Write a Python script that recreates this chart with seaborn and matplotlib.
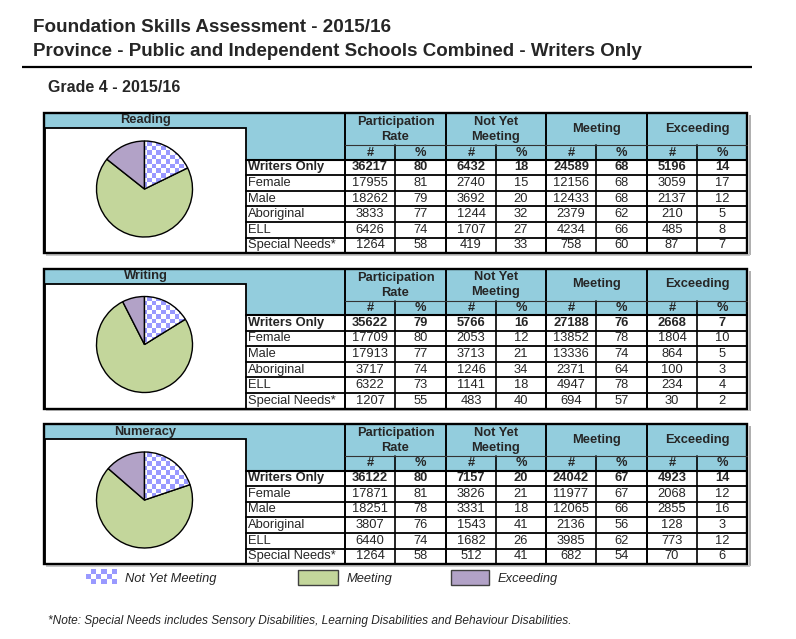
import matplotlib
matplotlib.use("Agg")
import matplotlib.pyplot as plt
from matplotlib import font_manager
from matplotlib.colors import ListedColormap
from matplotlib.patches import Rectangle
import numpy as np
import seaborn as sns

# Data
subjects = ["Reading", "Writing", "Numeracy"]
groups = ["Writers Only", "Female", "Male", "Aboriginal", "ELL", "Special Needs*"]
levels = ["Not Yet Meeting", "Meeting", "Exceeding"]
col_groups = ["Participation\nRate", "Not Yet\nMeeting", "Meeting", "Exceeding"]

reading_n = [36217, 17955, 18262, 3833, 6426, 1264]
reading_rate = [80, 81, 79, 77, 74, 58]
reading_nym_n = [6432, 2740, 3692, 1244, 1707, 419]
reading_nym_pct = [18, 15, 20, 32, 27, 33]
reading_meet_n = [24589, 12156, 12433, 2379, 4234, 758]
reading_meet_pct = [68, 68, 68, 62, 66, 60]
reading_exc_n = [5196, 3059, 2137, 210, 485, 87]
reading_exc_pct = [14, 17, 12, 5, 8, 7]

writing_n = [35622, 17709, 17913, 3717, 6322, 1207]
writing_rate = [79, 80, 77, 74, 73, 55]
writing_nym_n = [5766, 2053, 3713, 1246, 1141, 483]
writing_nym_pct = [16, 12, 21, 34, 18, 40]
writing_meet_n = [27188, 13852, 13336, 2371, 4947, 694]
writing_meet_pct = [76, 78, 74, 64, 78, 57]
writing_exc_n = [2668, 1804, 864, 100, 234, 30]
writing_exc_pct = [7, 10, 5, 3, 4, 2]

numeracy_n = [36122, 17871, 18251, 3807, 6440, 1264]
numeracy_rate = [80, 81, 78, 76, 74, 58]
numeracy_nym_n = [7157, 3826, 3331, 1543, 1682, 512]
numeracy_nym_pct = [20, 21, 18, 41, 26, 41]
numeracy_meet_n = [24042, 11977, 12065, 2136, 3985, 682]
numeracy_meet_pct = [67, 67, 66, 56, 62, 54]
numeracy_exc_n = [4923, 2068, 2855, 128, 773, 70]
numeracy_exc_pct = [14, 12, 16, 3, 12, 6]

tables = {
    "Reading": [reading_n, reading_rate, reading_nym_n, reading_nym_pct,
                reading_meet_n, reading_meet_pct, reading_exc_n, reading_exc_pct],
    "Writing": [writing_n, writing_rate, writing_nym_n, writing_nym_pct,
                writing_meet_n, writing_meet_pct, writing_exc_n, writing_exc_pct],
    "Numeracy": [numeracy_n, numeracy_rate, numeracy_nym_n, numeracy_nym_pct,
                 numeracy_meet_n, numeracy_meet_pct, numeracy_exc_n, numeracy_exc_pct],
}

# Style
sns.set_theme(style="white")
available = {f.name for f in font_manager.fontManager.ttflist}
narrow = "Liberation Sans Narrow" if "Liberation Sans Narrow" in available else "Liberation Sans"
plt.rcParams["font.family"] = ["Liberation Sans", "DejaVu Sans"]

header_blue = "#93CDDD"
meet_green = "#C3D69B"
exc_purple = "#B2A2C7"
checker_blue = "#9999FF"
checker_cmap = ListedColormap(["white", checker_blue])

W, H = 796, 639
fig = plt.figure(figsize=(W / 100, H / 100), dpi=100)
ax = fig.add_axes([0, 0, 1, 1])
ax.set_xlim(0, W)
ax.set_ylim(H, 0)
ax.axis("off")
renderer = fig.canvas.get_renderer()


def fit_text(x, y, s, width, size, **kw):
    t = ax.text(x, y, s, fontsize=size, **kw)
    w = t.get_window_extent(renderer=renderer).width
    t.set_fontsize(size * width / w)
    return t


def checker(n_x, n_y):
    return np.add.outer(np.arange(n_y), np.arange(n_x)) % 2


# Titles
fit_text(33, 28, "Foundation Skills Assessment - 2015/16", 357, 13,
         family=narrow, weight="bold", va="center")
fit_text(33, 51, "Province - Public and Independent Schools Combined - Writers Only", 610, 13,
         family=narrow, weight="bold", va="center")
ax.plot([22, 752], [67, 67], color="black", lw=1.6, solid_capstyle="butt")
fit_text(48, 88, "Grade 4 - 2015/16", 132, 10, family=narrow, weight="bold", va="center")

# Panels
col_edges = [345, 395, 446, 496, 546, 596, 647, 697, 747]
panel_tops = [113, 268.5, 424]
row_h = 15.6
hdr_h = 46.5
panel_h = 140
fs = 9.3

for subject, t in zip(subjects, panel_tops):
    cols = tables[subject]
    # shadow
    ax.add_patch(Rectangle((749, t + 2), 2, panel_h, color="#B0B0B0", lw=0))
    ax.add_patch(Rectangle((46, t + panel_h + 1), 704, 1.5, color="#C8C8C8", lw=0))
    # header backgrounds
    ax.add_patch(Rectangle((44, t), 302, 15, color=header_blue, lw=0))
    ax.add_patch(Rectangle((246, t), 501, hdr_h, color=header_blue, lw=0))
    ax.add_patch(Rectangle((45, t + 15), 201, panel_h - 15, facecolor="white",
                           edgecolor="black", lw=1.3))
    # grid lines
    for x in col_edges[::2]:
        ax.plot([x, x], [t, t + panel_h], color="black", lw=1.4)
    for x in col_edges[1::2]:
        ax.plot([x, x], [t + 32, t + panel_h], color="black", lw=1.2)
    ax.plot([345, 747], [t + 32, t + 32], color="#333333", lw=0.8)
    ax.plot([246, 747], [t + hdr_h, t + hdr_h], color="black", lw=1.5)
    for k in range(1, len(groups)):
        y = t + hdr_h + k * row_h
        ax.plot([246, 747], [y, y], color="black", lw=1.3)
    ax.add_patch(Rectangle((44, t), 703, panel_h, fill=False, edgecolor="black", lw=1.7))

    # header text
    ax.text((45 + 246) / 2, t + 7.5, subject, fontsize=fs, weight="bold",
            ha="center", va="center")
    for i, label in enumerate(col_groups):
        cx = (col_edges[2 * i] + col_edges[2 * i + 2]) / 2
        lines = label.split("\n")
        if len(lines) == 2:
            ax.text(cx, t + 9, lines[0], fontsize=fs, weight="bold", ha="center", va="center")
            ax.text(cx, t + 24, lines[1], fontsize=fs, weight="bold", ha="center", va="center")
        else:
            ax.text(cx, t + 16, label, fontsize=fs, weight="bold", ha="center", va="center")
        for j, sym in enumerate(["#", "%"]):
            sx = (col_edges[2 * i + j] + col_edges[2 * i + j + 1]) / 2
            ax.text(sx, t + 39.5, sym, fontsize=fs, weight="bold", ha="center", va="center")

    # body text
    for k, g in enumerate(groups):
        y = t + hdr_h + (k + 0.5) * row_h
        wt = "bold" if k == 0 else "normal"
        ax.text(248, y, g, fontsize=fs, weight=wt, ha="left", va="center")
        for c, vals in enumerate(cols):
            cx = (col_edges[c] + col_edges[c + 1]) / 2
            ax.text(cx, y, str(vals[k]), fontsize=fs, weight=wt, ha="center", va="center")

    # pie
    pie_vals = [cols[2][0], cols[4][0], cols[6][0]]
    cx, cy, r = 144.5, t + 76, 48
    m = 1.04
    pax = fig.add_axes([(cx - r * m) / W, 1 - (cy + r * m) / H, 2 * r * m / W, 2 * r * m / H])
    wedges, _ = pax.pie(pie_vals, colors=["white", meet_green, exc_purple],
                        startangle=90, counterclock=False,
                        wedgeprops=dict(edgecolor="black", linewidth=1.0))
    wedges[0].set_facecolor("none")
    wedges[0].set_zorder(5)
    n = 21
    im = pax.imshow(checker(n, n), extent=[-1, 1, -1, 1], cmap=checker_cmap,
                    interpolation="nearest", zorder=1)
    im.set_clip_path(wedges[0])
    pax.set_xlim(-m, m)
    pax.set_ylim(-m, m)
    pax.axis("off")

# Legend
im = ax.imshow(checker(6, 3), extent=[86, 117, 584, 569], cmap=checker_cmap,
               interpolation="nearest")
ax.text(125, 579, levels[0], fontsize=fs, style="italic", va="center")
ax.add_patch(Rectangle((298, 570), 40, 15, facecolor=meet_green, edgecolor="#404040", lw=1))
ax.text(347, 579, levels[1], fontsize=fs, style="italic", va="center")
ax.add_patch(Rectangle((451, 570), 38, 15, facecolor=exc_purple, edgecolor="#404040", lw=1))
ax.text(498, 579, levels[2], fontsize=fs, style="italic", va="center")

fit_text(48, 621, "*Note: Special Needs includes Sensory Disabilities, Learning Disabilities "
         "and Behaviour Disabilities.", 530, 8, style="italic", va="center")

ax.set_xlim(0, W)
ax.set_ylim(H, 0)
ax.set_aspect("auto")

fig.savefig("out.png", dpi=100)
